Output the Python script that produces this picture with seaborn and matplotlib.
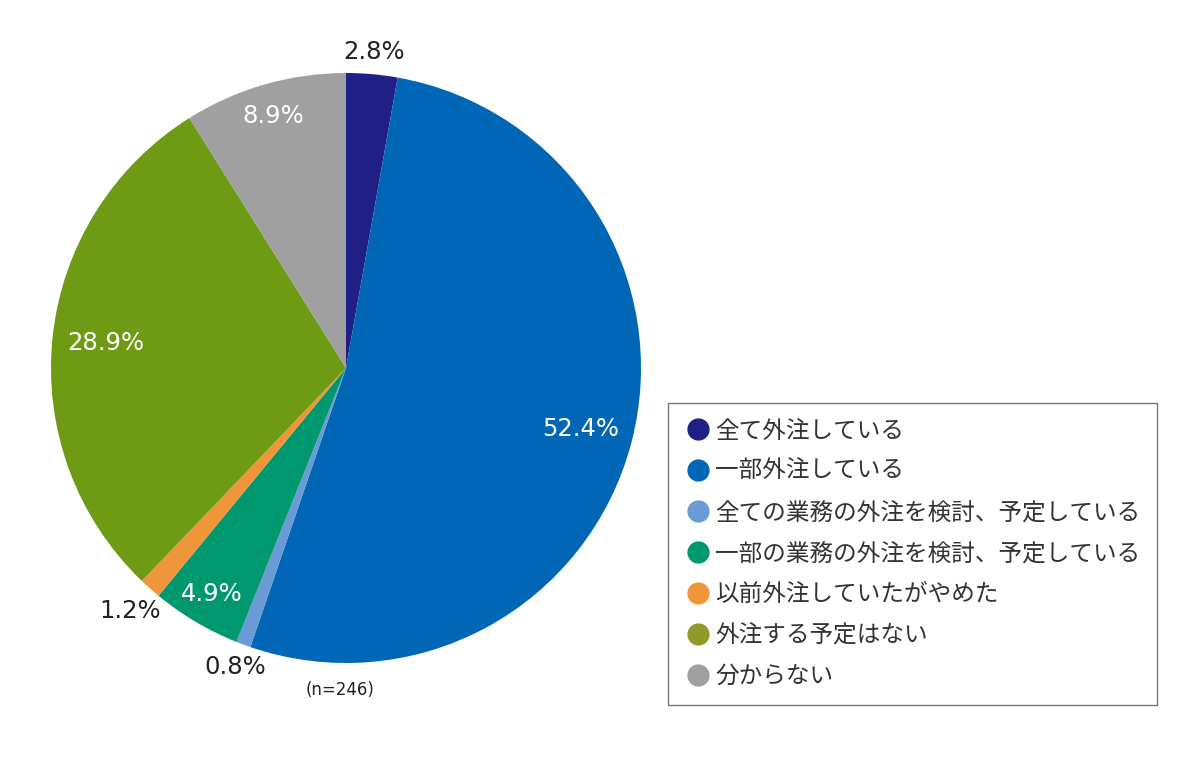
import numpy as np
import seaborn as sns
import matplotlib.pyplot as plt
from matplotlib.lines import Line2D

sns.set_theme(style="white")
plt.rcParams['font.family'] = ['Noto Sans CJK JP', 'DejaVu Sans']

# データ
categories = ["全て外注している", "一部外注している", "全ての業務の外注を検討、予定している",
              "一部の業務の外注を検討、予定している", "以前外注していたがやめた",
              "外注する予定はない", "分からない"]
values = [2.8, 52.4, 0.8, 4.9, 1.2, 28.9, 8.9]
colors = ["#1f1f86", "#0066b5", "#6b9bd6", "#00986f", "#f0963a", "#6e9a14", "#a0a0a0"]
legend_colors = ["#1f1f86", "#0066b5", "#6b9bd6", "#00986f", "#f0963a", "#8f9a2a", "#a0a0a0"]
sample_note = "(n=246)"

# ラベルの半径(中心からの距離)と文字色
label_r = [1.075, 0.82, 1.08, 0.89, 1.10, 0.82, 0.89]
label_c = ["#222222", "white", "#222222", "white", "#222222", "white", "white"]

fig = plt.figure(figsize=(12, 7.67), dpi=100)
W, H = 1200, 767
cx, cy, R = 346, 368, 295
ax = fig.add_axes([(cx - R) / W, (H - cy - R) / H, 2 * R / W, 2 * R / H])

wedges, _ = ax.pie(values, colors=colors, startangle=90, counterclock=False,
                   radius=1, wedgeprops=dict(linewidth=0))
ax.set_xlim(-1, 1)
ax.set_ylim(-1, 1)
ax.set_aspect('equal')
ax.axis('off')

# パーセント表示
total = sum(values)
cum = np.cumsum([0] + values)
for i, v in enumerate(values):
    mid = (cum[i] + v / 2) / total * 360
    ang = np.deg2rad(90 - mid)
    x = label_r[i] * np.cos(ang)
    y = label_r[i] * np.sin(ang)
    ax.text(x, y, f"{v:.1f}%", ha='center', va='center', fontsize=17.5,
            color=label_c[i], family='DejaVu Sans', clip_on=False)

fig.text(340 / W, 1 - 690 / H, sample_note, ha='center', va='center',
         fontsize=12, color="#222222", family='DejaVu Sans')

# 凡例
handles = [Line2D([0], [0], marker='o', linestyle='', markersize=15,
                  markerfacecolor=c, markeredgecolor=c) for c in legend_colors]
leg = fig.legend(handles, categories, loc='upper left',
                 bbox_to_anchor=(668 / W, 1 - 403 / H), borderaxespad=0,
                 frameon=True, fancybox=False, fontsize=17, labelspacing=0.76,
                 handletextpad=0.2, borderpad=0.7, handlelength=1.1,
                 labelcolor="#333333")
leg.get_frame().set_edgecolor("#555555")
leg.get_frame().set_linewidth(1.0)

fig.savefig("out.png", dpi=100)
